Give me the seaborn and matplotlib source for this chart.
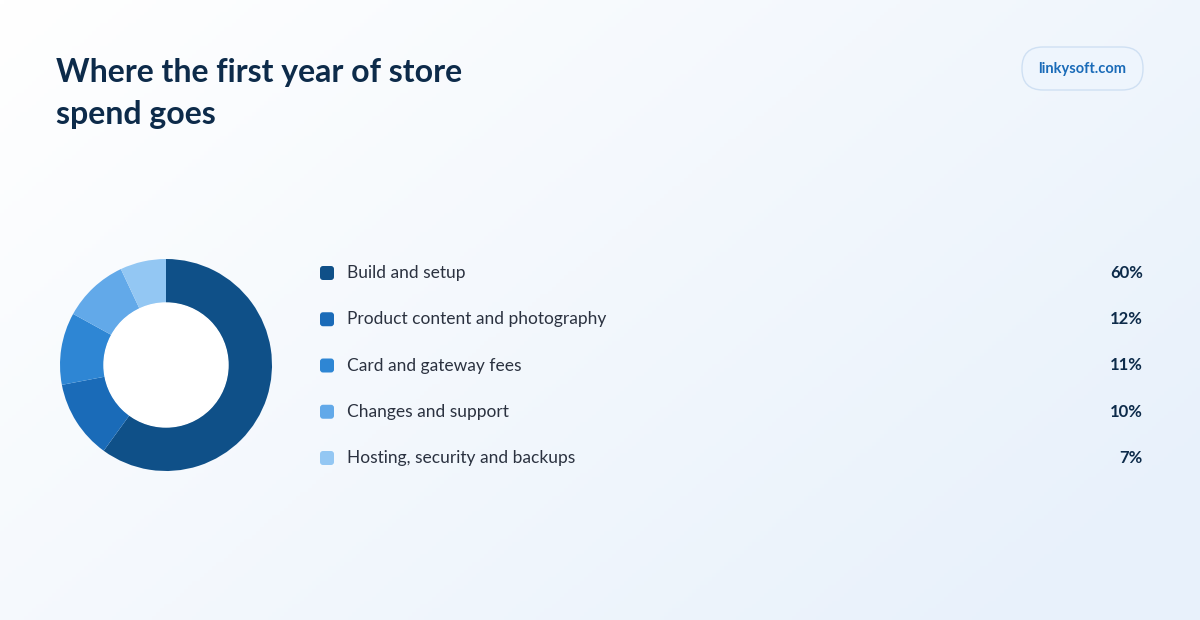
import numpy as np
import matplotlib
matplotlib.use("Agg")
import matplotlib.pyplot as plt
from matplotlib.patches import FancyBboxPatch
import seaborn as sns

# Chart data
categories = ["Build and setup", "Product content and photography",
              "Card and gateway fees", "Changes and support",
              "Hosting, security and backups"]
shares = [60, 12, 11, 10, 7]
colors = ["#0f5088", "#1a6bb8", "#2e86d4", "#62a9e9", "#93c7f3"]
title_lines = ["Where the first year of store", "spend goes"]
badge = "linkysoft.com"

sns.set_theme(style="white")
plt.rcParams['font.family'] = ['Lato', 'DejaVu Sans']

W, H = 1200, 620
fig = plt.figure(figsize=(W / 100, H / 100), dpi=100)

# Background gradient (white top-left -> pale blue bottom-right)
bg = fig.add_axes([0, 0, 1, 1])
gx, gy = np.meshgrid(np.linspace(0, 1, 300), np.linspace(0, 1, 160))
t = np.clip((gx * 0.8 + gy * 0.5) / 1.2, 0, 1)
c0 = np.array([1.0, 1.0, 1.0])
c1 = np.array([0xe8, 0xf1, 0xfb]) / 255
img = c0[None, None, :] * (1 - t[..., None]) + c1[None, None, :] * t[..., None]
bg.imshow(img, extent=[0, W, 0, H], aspect='auto', origin='lower')
bg.set_xlim(0, W)
bg.set_ylim(H, 0)
bg.axis('off')

# Title
for i, line in enumerate(title_lines):
    bg.text(56, 82 + 42 * i, line, fontsize=23, fontweight='bold', color='#0d2b4a',
            va='baseline', ha='left')

# Badge
pill = FancyBboxPatch((1022, 47), 121, 43, boxstyle="round,pad=0,rounding_size=21",
                      facecolor='#eef5fd', edgecolor='#cfe0f3', linewidth=1.0)
bg.add_patch(pill)
bg.text(1082.5, 69, badge, fontsize=10.5, fontweight='bold', color='#1a6bb8',
        ha='center', va='center')

# Legend rows
row_y = np.linspace(273, 458, len(categories))
for y, name, val, col in zip(row_y, categories, shares, colors):
    sq = FancyBboxPatch((320, y - 7), 14, 14, boxstyle="round,pad=0,rounding_size=3",
                        facecolor=col, edgecolor='none')
    bg.add_patch(sq)
    bg.text(347, y, name, fontsize=12.5, color='#2b3240', ha='left', va='center')
    bg.text(1143, y, f"{val}%", fontsize=12, fontweight='bold', color='#0d2b4a',
            ha='right', va='center')

# Donut
cx, cy, r = 166, 365, 106
ax = fig.add_axes([(cx - r) / W, (H - cy - r) / H, 2 * r / W, 2 * r / H])
ax.pie(shares, colors=colors, startangle=90, counterclock=False,
       radius=1.0, wedgeprops=dict(width=0.415, edgecolor='none'))
ax.set_xlim(-1, 1)
ax.set_ylim(-1, 1)
ax.set_aspect('equal')
ax.axis('off')
# white hole
ax.add_patch(plt.Circle((0, 0), 0.585, color='white', zorder=5))

fig.savefig("out.png", dpi=100)
